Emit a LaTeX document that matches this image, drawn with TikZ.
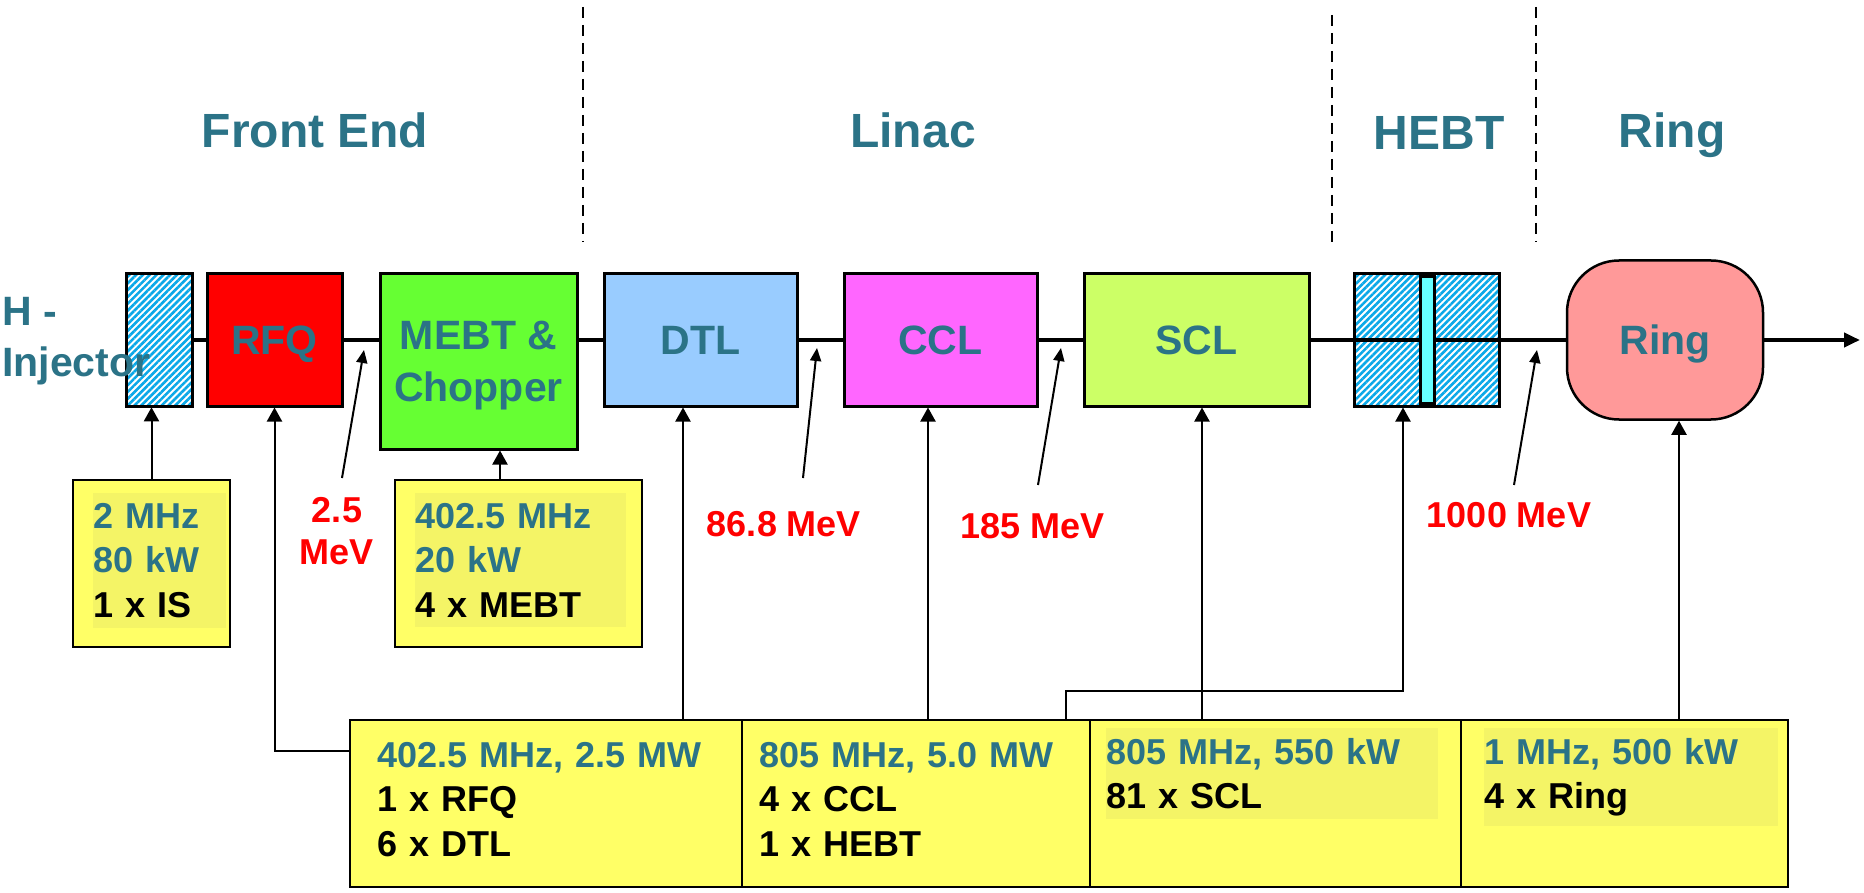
\documentclass[tikz,border=0pt]{standalone}
\usepackage{fontspec}
\setmainfont{Liberation Sans}
\usetikzlibrary{arrows.meta,patterns.meta}

\definecolor{labelteal}{HTML}{2B7387}
\definecolor{hatchblue}{HTML}{0AA8E8}
\definecolor{rfqred}{HTML}{FF0000}
\definecolor{mebtgreen}{HTML}{66FF33}
\definecolor{dtlblue}{HTML}{99CCFF}
\definecolor{cclpink}{HTML}{FF66FF}
\definecolor{sclgreen}{HTML}{CCFF66}
\definecolor{ringpink}{HTML}{FF9999}
\definecolor{barcyan}{HTML}{66FFFF}
\definecolor{powyellow}{HTML}{FFFF66}
\definecolor{hlyellow}{HTML}{F4F466}
\newcommand{\rftag}[1]{\textcolor{labelteal}{#1}}

\begin{document}
\begin{tikzpicture}[x=1pt,y=-1pt,
  unit/.style={draw, line width=3pt, inner sep=0pt, text depth=0pt, minimum height=132pt, font=\fontsize{41}{52}\selectfont\bfseries, text=labelteal, align=center},
  hatched/.style={draw, line width=3pt, inner sep=0pt, minimum height=132pt, preaction={fill=white}, pattern={Lines[angle=45,distance=4.8pt,line width=2.6pt]}, pattern color=hatchblue},
  powbox/.style={draw, line width=2.5pt, fill=powyellow, inner sep=0pt, minimum height=167pt},
  powtext/.style={anchor=north west, inner xsep=0pt, inner ysep=10pt, align=left, font=\fontsize{36}{44.5}\selectfont\bfseries},
  header/.style={anchor=base, font=\fontsize{48}{58}\selectfont\bfseries, text=labelteal},
  energy/.style={font=\fontsize{36}{42}\selectfont\bfseries, text=red, align=center, inner sep=0pt},
  beam/.style={line width=4.5pt},
  feed/.style={line width=2pt, -{Triangle[width=15pt,length=14pt]}},
  tag/.style={line width=2pt, -{Triangle[width=11pt,length=13pt]}},
  divider/.style={line width=1.8pt, dash pattern=on 11pt off 7pt}]
\useasboundingbox (0,0) rectangle (1864,893);

% section headers and dividers
\node[header] (hfront) at (315,148) {Front End};
\node[header] (hlinac) at (913,148) {Linac};
\node[header] (hhebt) at (1439,150) {HEBT};
\node[header] (hring) at (1672,148) {Ring};
\foreach \x/\ya/\yb in {583/7/242, 1332/15/249, 1536/7/242}
  \draw[divider] (\x,\ya) -- (\x,\yb);

% beam line elements
\node[hatched, minimum width=66pt] (inj) at (159,340) {};
\node[unit, fill=rfqred, minimum width=135pt] (rfq) at (274.5,340) {RFQ};
\node[unit, fill=mebtgreen, minimum width=197pt, minimum height=175pt] (mebt) at (478.5,361.5) {MEBT \&\\Chopper};
\node[unit, fill=dtlblue, minimum width=193pt] (dtl) at (700.5,340) {DTL};
\node[unit, fill=cclpink, minimum width=193pt] (ccl) at (940.5,340) {CCL};
\node[unit, fill=sclgreen, minimum width=225pt] (scl) at (1196.5,340) {SCL};
\node[hatched, minimum width=145pt] (hebt) at (1426.5,340) {};
\node[unit, fill=ringpink, line width=2.5pt, rounded corners=52pt, minimum width=196pt, minimum height=159pt] (ring) at (1665,340) {Ring};

% beam
\draw[beam] (inj.east) -- (rfq.west);
\draw[beam] (rfq.east) -- (rfq.east -| mebt.west);
\draw[beam] (dtl.west -| mebt.east) -- (dtl.west);
\draw[beam] (dtl.east) -- (ccl.west);
\draw[beam] (ccl.east) -- (scl.west);
\draw[beam] (scl.east) -- (ring.west);
\coordinate (beamend) at (1860,340);
\draw[beam, -{Triangle[width=14pt,length=16pt]}] (ring.east) -- (beamend);
\node[draw, line width=3pt, fill=barcyan, inner sep=0pt, minimum width=14pt, minimum height=126pt] (hebtbar) at (1427,340) {};

\node[anchor=north west, inner sep=0pt, align=left, font=\fontsize{41}{51}\selectfont\bfseries, text=labelteal] (hinj) at (2,297) {H -\\Injector};

% rf power boxes
\node[powbox, minimum width=157pt] (ispow) at (151.5,563.5) {};
\node[powbox, minimum width=247pt] (mebtpow) at (518.5,563.5) {};
\foreach \n/\cx/\w in {pwa/546/392, pwb/916/348, pwc/1275.5/371, pwd/1624.5/327}
  \node[powbox, minimum width=\w] (\n) at (\cx,803.5) {};

\node[powtext, fill=hlyellow, text width=133pt] (istxt) at (93,493) {\rftag{2 MHz}\\\rftag{80 kW}\\1 x IS};
\node[powtext, fill=hlyellow, text width=211pt] (mebttxt) at (415,493) {\rftag{402.5 MHz}\\\rftag{20 kW}\\4 x MEBT};
\node[powtext, text width=350pt] (pwatxt) at (377,732) {\rftag{402.5 MHz, 2.5 MW}\\1 x RFQ\\6 x DTL};
\node[powtext, text width=320pt] (pwbtxt) at (759,732) {\rftag{805 MHz, 5.0 MW}\\4 x CCL\\1 x HEBT};
\node[powtext, fill=hlyellow, text width=332pt] (pwctxt) at (1106,728) {\rftag{805 MHz, 550 kW}\\81 x SCL};
\node[powtext, fill=hlyellow, text width=294pt] (pwdtxt) at (1484,728) {\rftag{1 MHz, 500 kW}\\4 x Ring};

% feeds
\draw[feed] (ispow.north) -- (ispow.north |- inj.south);
\draw[feed] ([xshift=21.5pt]mebt.south |- mebtpow.north) -- ([xshift=21.5pt]mebt.south);
\draw[feed] ([yshift=-32pt]pwa.north west) -| (rfq.south);
\draw[feed] ([xshift=-17.5pt]dtl.south |- pwa.north) -- ([xshift=-17.5pt]dtl.south);
\draw[feed] ([xshift=-12.5pt]ccl.south |- pwb.north) -- ([xshift=-12.5pt]ccl.south);
\draw[feed] ([xshift=-25pt]pwb.north east) -- ++(0,-28) -| ([xshift=-23.5pt]hebt.south);
\draw[feed] ([xshift=5.5pt]scl.south |- pwc.north) -- ([xshift=5.5pt]scl.south);
\draw[feed] ([xshift=14pt]ring.south |- pwd.north) -- ([xshift=14pt]ring.south);

% beam energies
\node[energy] (e25) at (337,531) {2.5\\MeV};
\node[energy] (e868) at (784,524) {86.8 MeV};
\node[energy] (e185) at (1033,526) {185 MeV};
\node[energy] (e1000) at (1509,515) {1000 MeV};
\coordinate (t25) at (342,478);   \coordinate (b25) at (364,350);
\coordinate (t868) at (803,478);  \coordinate (b868) at (817,348);
\coordinate (t185) at (1038,485); \coordinate (b185) at (1061,348);
\coordinate (t1000) at (1514,485); \coordinate (b1000) at (1537,350);
\draw[tag] (t25) -- (b25);
\draw[tag] (t868) -- (b868);
\draw[tag] (t185) -- (b185);
\draw[tag] (t1000) -- (b1000);
\end{tikzpicture}
\end{document}
